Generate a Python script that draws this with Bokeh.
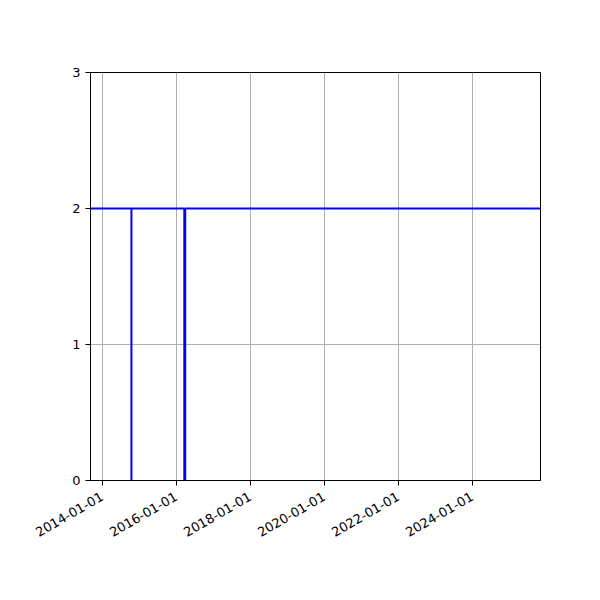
import math
from datetime import datetime
from bokeh.plotting import figure
from bokeh.models import Range1d, FixedTicker, DatetimeTickFormatter
from bokeh.embed import file_html
from bokeh.resources import INLINE

# data
dates = ["2013-09-08", "2014-10-17", "2014-10-17", "2014-10-17",
         "2016-03-22", "2016-03-22", "2016-03-31", "2016-03-31", "2025-11-06"]
values = [2, 2, 0, 2, 2, 0, 0, 2, 2]
x_tick_labels = ["2014-01-01", "2016-01-01", "2018-01-01", "2020-01-01",
                 "2022-01-01", "2024-01-01"]
y_ticks = [0, 1, 2, 3]

xs = [datetime.strptime(d, "%Y-%m-%d") for d in dates]
tick_ms = [datetime.strptime(d, "%Y-%m-%d").timestamp() * 1000 for d in x_tick_labels]

p = figure(width=592, height=592, x_axis_type="datetime",
           output_backend="svg", toolbar_location=None,
           x_range=Range1d(datetime(2013, 9, 8), datetime(2025, 11, 6)),
           y_range=Range1d(0, 3),
           min_border_left=90, min_border_right=52,
           min_border_top=72, min_border_bottom=112)

p.line(xs, values, line_color="#0000ff", line_width=2)

p.outline_line_color="black"
p.outline_line_width=1
p.background_fill_color="white"
p.border_fill_color="white"

for ax in (p.xaxis[0], p.yaxis[0]):
    ax.axis_line_color="black"
    ax.major_tick_line_color="black"
    ax.major_tick_out=5
    ax.major_tick_in=0
    ax.minor_tick_line_color=None
    ax.major_label_text_font="DejaVu Sans"
    ax.major_label_text_font_size="13px"
    ax.major_label_text_color="black"

p.xaxis.ticker = FixedTicker(ticks=tick_ms)
p.xaxis.formatter = DatetimeTickFormatter(days="%Y-%m-%d", months="%Y-%m-%d",
                                          years="%Y-%m-%d")
p.xaxis.major_label_orientation = math.pi/6
p.xaxis.major_label_standoff = 10
p.yaxis.ticker = FixedTicker(ticks=y_ticks)

p.xgrid.ticker = FixedTicker(ticks=tick_ms)
p.ygrid.ticker = FixedTicker(ticks=y_ticks)
for g in (p.xgrid[0], p.ygrid[0]):
    g.grid_line_color="#b0b0b0"
    g.grid_line_width=1

open("out.html", "w").write(file_html(p, INLINE))
